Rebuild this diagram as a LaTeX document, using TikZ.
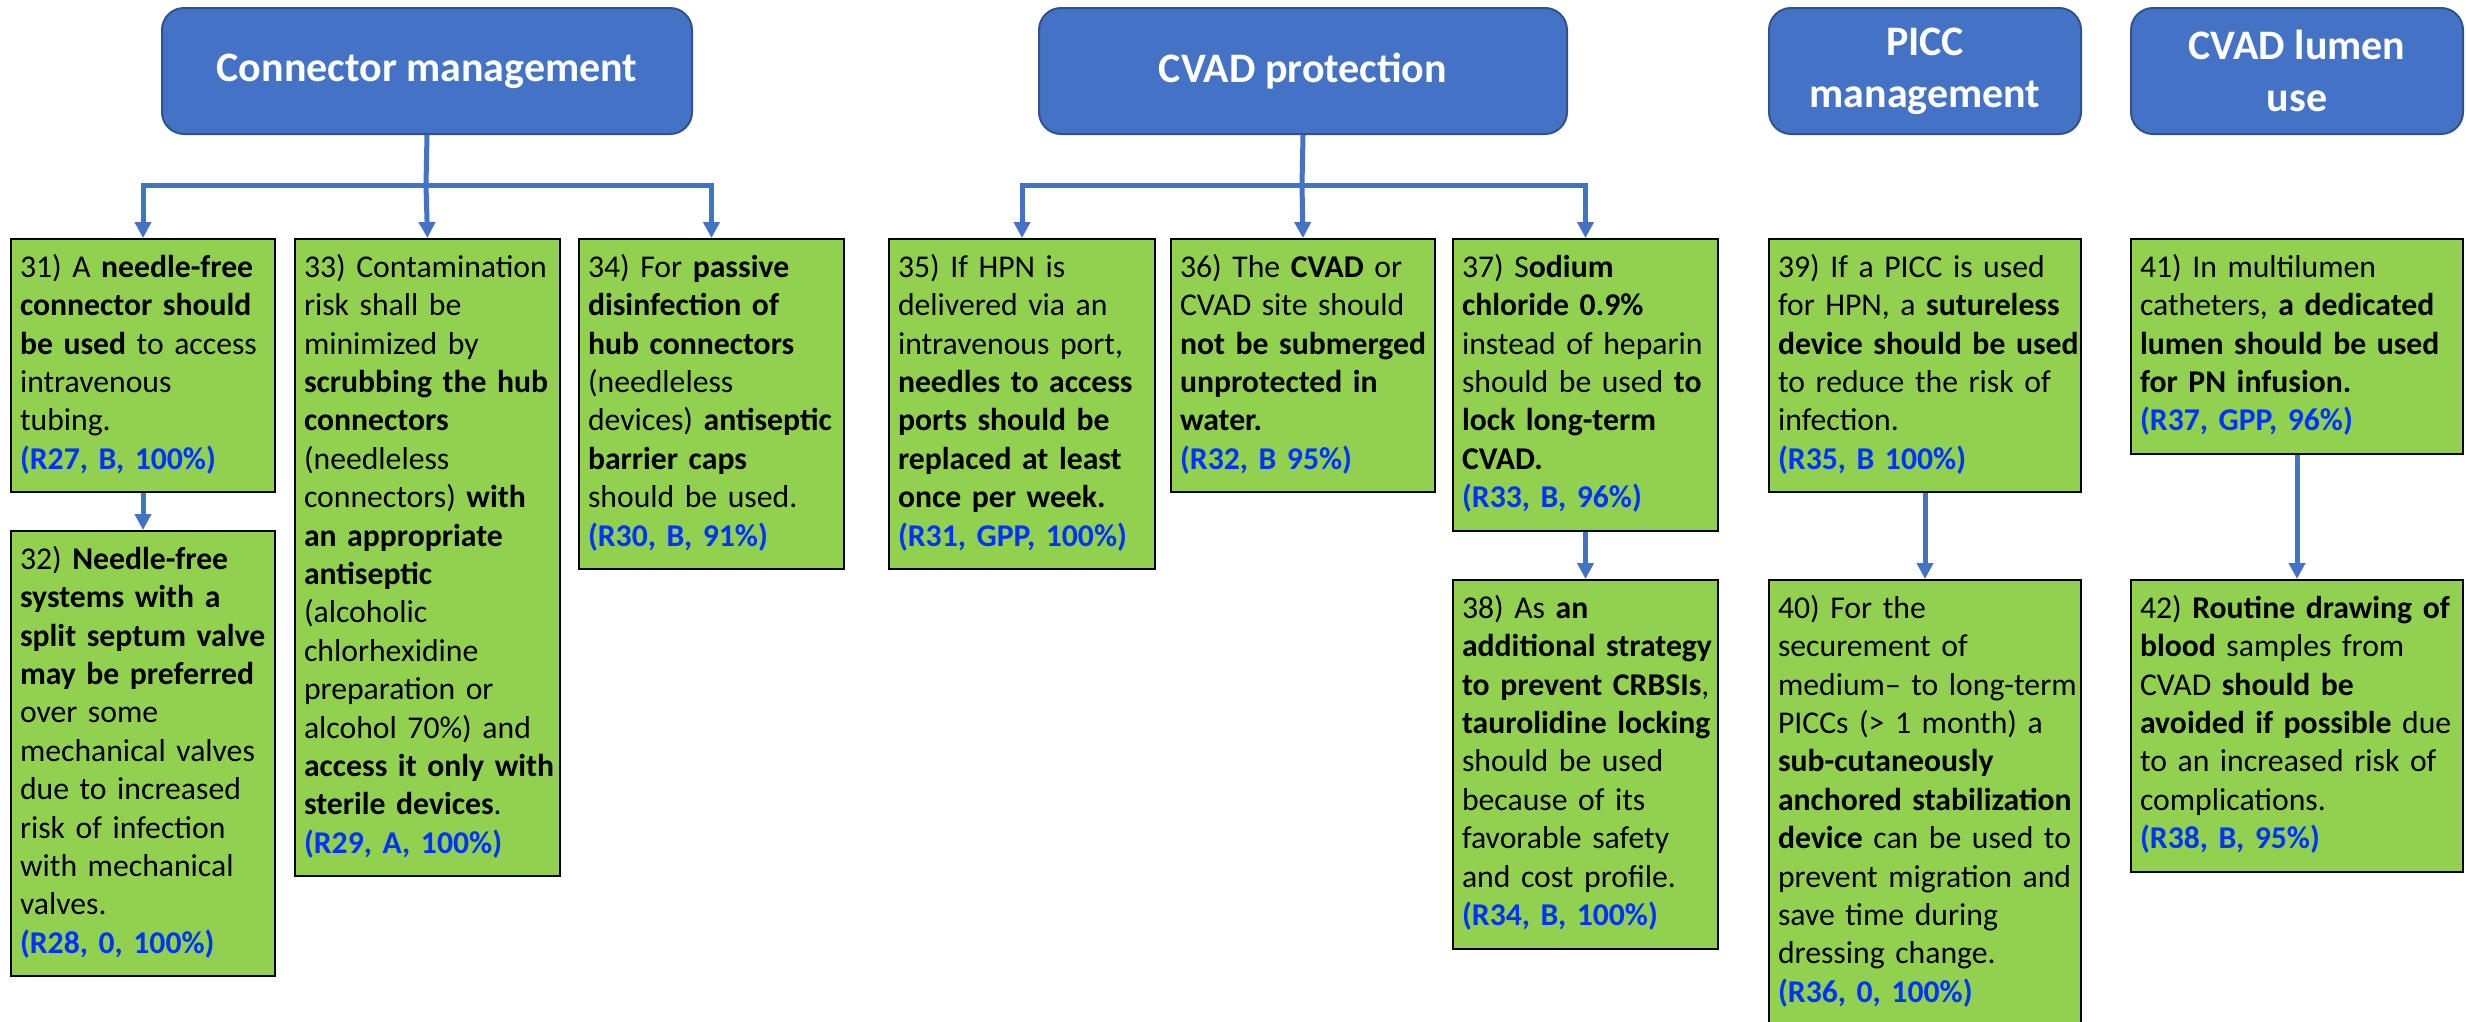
\documentclass[tikz,border=0pt]{standalone}
\usepackage{fontspec}
\setmainfont{Carlito}
\usetikzlibrary{arrows.meta}
\definecolor{hblue}{HTML}{4472C4}
\definecolor{hborder}{HTML}{2F528F}
\definecolor{boxgreen}{HTML}{92D050}
\definecolor{refblue}{RGB}{0,51,255}
\definecolor{lineblue}{HTML}{4472C4}
\newcommand\B[1]{\textbf{#1}}
\newcommand\Rf[1]{\textcolor{refblue}{\textbf{#1}}}
\newcommand\T[1]{\noindent\begin{tabular}{@{}l@{}}#1\end{tabular}}
\tikzset{
  hdr/.style={draw=hborder, line width=2pt, fill=hblue, rounded corners=22pt, text=white,
    font=\fontsize{42}{51.7}\selectfont\bfseries, align=center, inner sep=0pt,
    anchor=north west, minimum height=126pt},
  gbox/.style={draw=black, line width=2pt, fill=boxgreen, font=\fontsize{31.7}{38.4}\selectfont,
    align=left, inner xsep=9pt, inner ysep=11.5pt, anchor=north west},
  conn/.style={draw=lineblue, line width=5pt},
  arr/.style={conn, -{Triangle[width=16pt,length=16pt]}},
}
\begin{document}
\begin{tikzpicture}[x=1pt,y=-1pt]
\useasboundingbox[fill=white] (0,0) rectangle (2466,1021);
% headers
\node[hdr, minimum width=530pt] (h1) at (161,7) {Connector management};
\node[hdr, minimum width=528pt] (h2) at (1038,7) {CVAD protection};
\node[hdr, minimum width=312pt] (h3) at (1768,7) {PICC\\management};
\node[hdr, minimum width=332pt] (h4) at (2130,7) {CVAD lumen\\use};
% boxes
\node[gbox, text width=246pt] (b31) at (10,238) {\T{31) A \B{needle-free}\\ \B{connector should}\\ \B{be used} to access\\ intravenous\\ tubing.\\ \Rf{(R27, B, 100\%)}}};
\node[gbox, text width=246pt] (b32) at (10,530) {\T{32) \B{Needle-free}\\ \B{systems with a}\\ \B{split septum valve}\\ \B{may be preferred}\\ over some\\ mechanical valves\\ due to increased\\ risk of infection\\ with mechanical\\ valves.\\ \Rf{(R28, 0, 100\%)}}};
\node[gbox, text width=247pt] (b33) at (294,238) {\T{33) Contamination\\ risk shall be\\ minimized by\\ \B{scrubbing the hub}\\ \B{connectors}\\ (needleless\\ connectors) \B{with}\\ \B{an appropriate}\\ \B{antiseptic}\\ (alcoholic\\ chlorhexidine\\ preparation or\\ alcohol 70\%) and\\ \B{access it only with}\\ \B{sterile devices}.\\ \Rf{(R29, A, 100\%)}}};
\node[gbox, text width=247pt] (b34) at (578,238) {\T{34) For \B{passive}\\ \B{disinfection of}\\ \B{hub connectors}\\ (needleless\\ devices) \B{antiseptic}\\ \B{barrier caps}\\ should be used.\\ \Rf{(R30, B, 91\%)}}};
\node[gbox, text width=248pt] (b35) at (888,238) {\T{35) If HPN is\\ delivered via an\\ intravenous port,\\ \B{needles to access}\\ \B{ports should be}\\ \B{replaced at least}\\ \B{once per week.}\\ \Rf{(R31, GPP, 100\%)}}};
\node[gbox, text width=246pt] (b36) at (1170,238) {\T{36) The \B{CVAD} or\\ CVAD site should\\ \B{not be submerged}\\ \B{unprotected in}\\ \B{water.}\\ \Rf{(R32, B 95\%)}}};
\node[gbox, text width=247pt] (b37) at (1452,238) {\T{37) S\B{odium}\\ \B{chloride 0.9\%}\\ instead of heparin\\ should be used \B{to}\\ \B{lock long-term}\\ \B{CVAD.}\\ \Rf{(R33, B, 96\%)}}};
\node[gbox, text width=247pt] (b38) at (1452,579) {\T{38) As \B{an}\\ \B{additional strategy}\\ \B{to prevent CRBSIs},\\ \B{taurolidine locking}\\ should be used\\ because of its\\ favorable safety\\ and cost profile.\\ \Rf{(R34, B, 100\%)}}};
\node[gbox, text width=294pt] (b39) at (1768,238) {\T{39) If a PICC is used\\ for HPN, a \B{sutureless}\\ \B{device should be used}\\ to reduce the risk of\\ infection.\\ \Rf{(R35, B 100\%)}}};
\node[gbox, text width=294pt] (b40) at (1768,579) {\T{40) For the\\ securement of\\ medium– to long-term\\ PICCs (> 1 month) a\\ \B{sub-cutaneously}\\ \B{anchored stabilization}\\ \B{device} can be used to\\ prevent migration and\\ save time during\\ dressing change.\\ \Rf{(R36, 0, 100\%)}}};
\node[gbox, text width=314pt] (b41) at (2130,238) {\T{41) In multilumen\\ catheters, \B{a dedicated}\\ \B{lumen should be used}\\ \B{for PN infusion.}\\ \Rf{(R37, GPP, 96\%)}}};
\node[gbox, text width=314pt] (b42) at (2130,579) {\T{42) \B{Routine drawing of}\\ \B{blood} samples from\\ CVAD \B{should be}\\ \B{avoided if possible} due\\ to an increased risk of\\ complications.\\ \Rf{(R38, B, 95\%)}}};
% connectors
\coordinate (j1) at (426,185);
\coordinate (j2) at (1302,185);
\draw[conn] (h1.south) -- (j1);
\draw[arr] (j1) -| (b31.north);
\draw[arr] (j1) -- (b33.north);
\draw[arr] (j1) -| (b34.north);
\draw[conn] (h2.south) -- (j2);
\draw[arr] (j2) -| (b35.north);
\draw[arr] (j2) -- (b36.north);
\draw[arr] (j2) -| (b37.north);
\draw[arr] (b31.south) -- (b32.north);
\draw[arr] (b37.south) -- (b38.north);
\draw[arr] (b39.south) -- (b40.north);
\draw[arr] (b41.south) -- (b42.north);
\end{tikzpicture}
\end{document}
